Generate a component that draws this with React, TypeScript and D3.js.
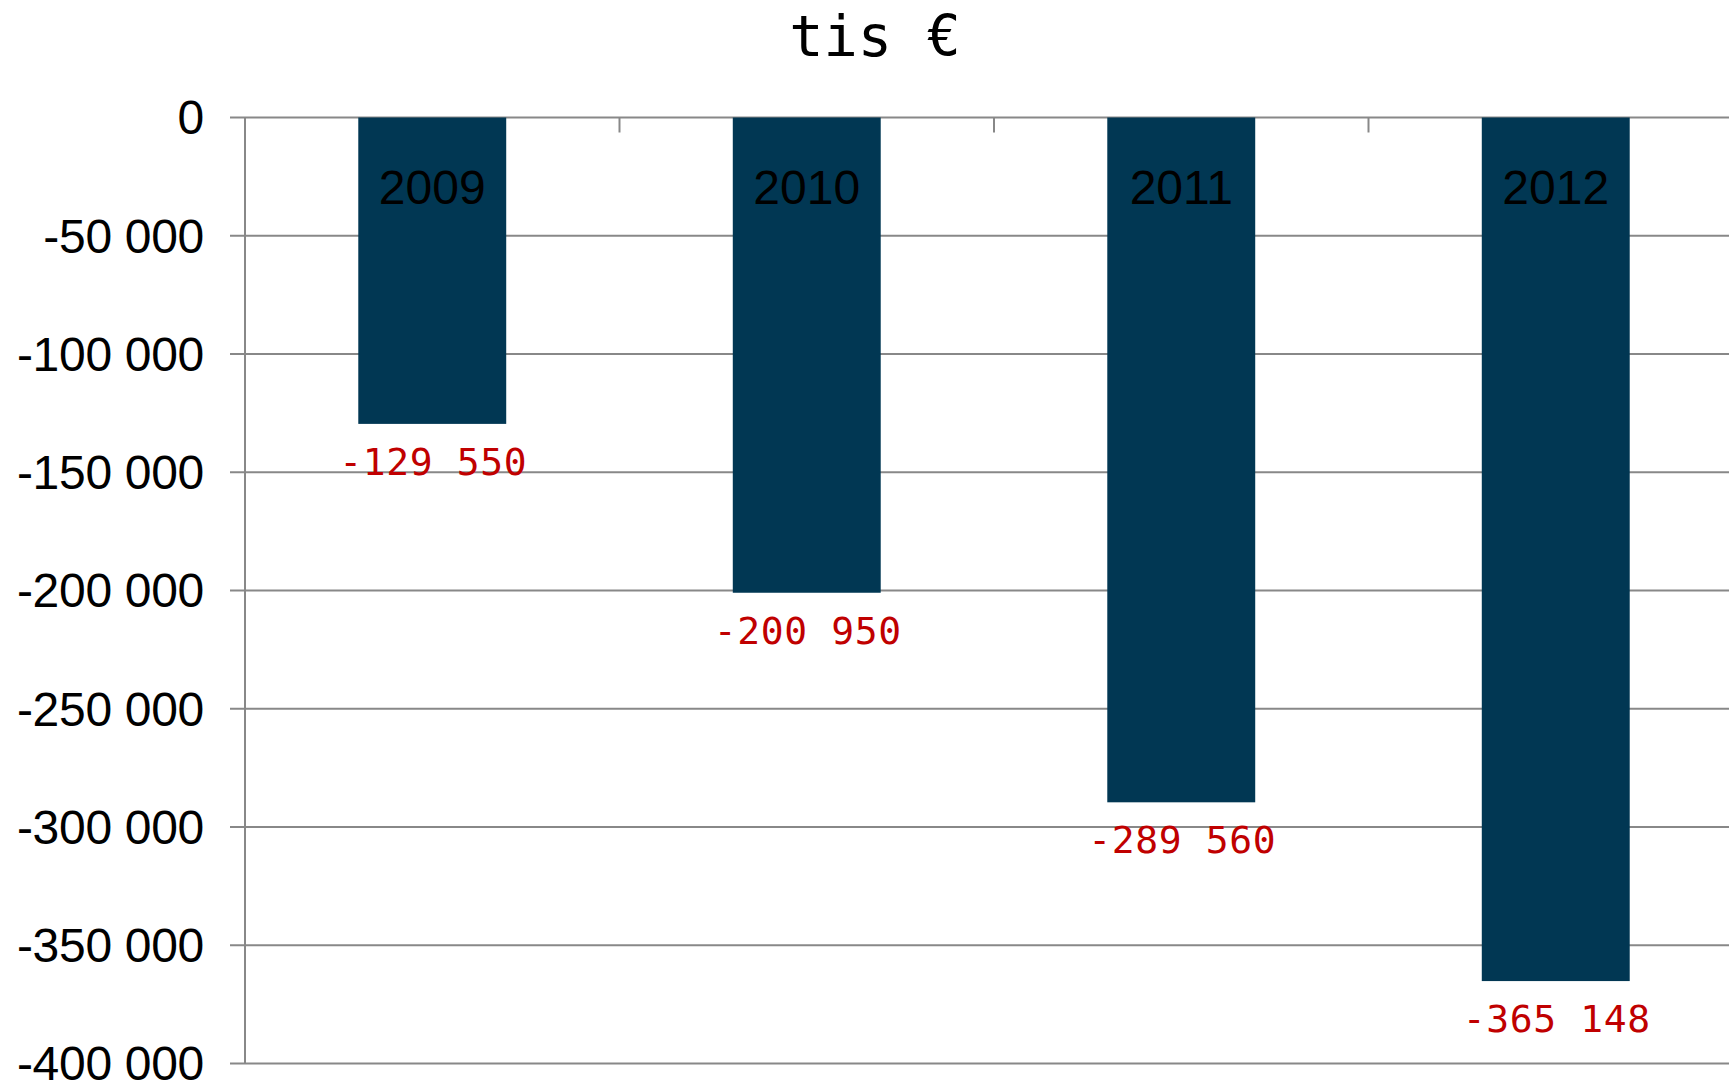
import React from "react";
import * as d3 from "d3";

const years: string[] = ["2009", "2010", "2011", "2012"];
const values: number[] = [-129550, -200950, -289560, -365148];
const valueLabels: string[] = ["-129 550", "-200 950", "-289 560", "-365 148"];
const yTicks: number[] = [0, -50000, -100000, -150000, -200000, -250000, -300000, -350000, -400000];
const yTickLabels: string[] = ["0", "-50 000", "-100 000", "-150 000", "-200 000", "-250 000", "-300 000", "-350 000", "-400 000"];
const title = "tis €";

const W = 1729;
const H = 1080;
const left = 245;
const right = 1743;
const top = 117.5;
const bottom = 1063.5;

export default function App() {
  const x = d3.scaleBand<string>().domain(years).range([left, right]).paddingInner(0.605).paddingOuter(0.3025);
  const y = d3.scaleLinear().domain([0, -400000]).range([top, bottom]);
  const step = x.step();
  const boundaries = d3.range(1, years.length).map((i) => left + i * step);
  const grid = "#888888";

  return (
    <svg
      width={W}
      height={H}
      style={{ position: "fixed", left: 0, top: 0, background: "#ffffff" }}
    >
      <rect x={0} y={0} width={W} height={H} fill="#ffffff" />
      <text
        x={875}
        y={56}
        textAnchor="middle"
        fontFamily="'DejaVu Sans Mono', monospace"
        fontSize={57}
        fill="#000"
      >
        {title}
      </text>
      {yTicks.map((t, i) => (
        <g key={t}>
          <line x1={230} x2={right} y1={y(t)} y2={y(t)} stroke={grid} strokeWidth={2} />
          <text
            x={204}
            y={y(t)}
            dy="0.35em"
            textAnchor="end"
            fontFamily="'Liberation Sans', Arial, sans-serif"
            fontSize={48}
            letterSpacing={-0.3}
            fill="#000"
          >
            {yTickLabels[i]}
          </text>
        </g>
      ))}
      <line x1={left} x2={left} y1={top} y2={bottom} stroke={grid} strokeWidth={2} />
      {boundaries.map((bx) => (
        <line key={bx} x1={bx} x2={bx} y1={top} y2={top + 15} stroke={grid} strokeWidth={2} />
      ))}
      {years.map((yr, i) => (
        <g key={yr}>
          <rect
            x={x(yr)}
            y={y(0)}
            width={x.bandwidth()}
            height={y(values[i]) - y(0)}
            fill="#013753"
          />
          <text
            x={(x(yr) as number) + x.bandwidth() / 2}
            y={204}
            textAnchor="middle"
            fontFamily="'Liberation Sans', Arial, sans-serif"
            fontSize={48}
            fill="#000"
          >
            {yr}
          </text>
          <text
            x={(x(yr) as number) + x.bandwidth() / 2 + 1}
            y={y(values[i]) + 51}
            textAnchor="middle"
            fontFamily="'DejaVu Sans Mono', monospace"
            fontSize={38}
            letterSpacing={0.6}
            fill="#C00000"
          >
            {valueLabels[i]}
          </text>
        </g>
      ))}
    </svg>
  );
}
